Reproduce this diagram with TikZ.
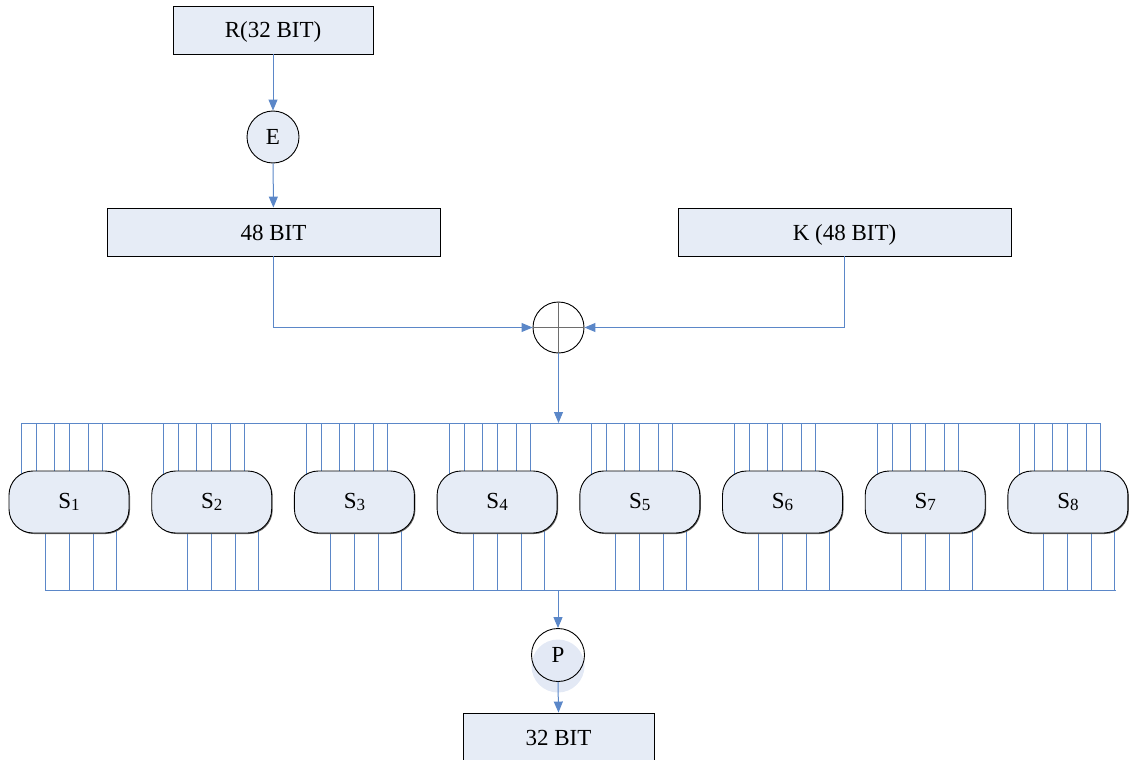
\documentclass[tikz,border=0pt]{standalone}
\usepackage{fontspec}
\setmainfont{Liberation Serif}
\usetikzlibrary{arrows.meta,calc,shadows,backgrounds}

\definecolor{boxfill}{HTML}{E6ECF6}
\definecolor{wire}{HTML}{5B87C8}
\definecolor{crossgray}{HTML}{6E6E6E}
\definecolor{pshade}{HTML}{E3E9F5}

\tikzset{
  label font/.style={font=\fontsize{23}{23}\selectfont},
  blockbox/.style={draw=black, fill=boxfill, line width=0.9pt, inner sep=0pt,
    minimum height=48pt, text height=16pt, text depth=0pt, label font,
    drop shadow={shadow xshift=1.2pt, shadow yshift=-1.2pt, fill=black!65, opacity=1}},
  sbox/.style={draw=black, fill=boxfill, line width=0.9pt, rounded corners=24pt,
    minimum width=120pt, minimum height=62pt, inner sep=0pt, label font,
    drop shadow={shadow xshift=1pt, shadow yshift=-1pt, fill=black!60, opacity=1}},
  roundop/.style={circle, draw=black, line width=0.9pt, inner sep=0pt, label font},
  flow/.style={draw=wire, line width=1pt, -{Triangle[length=11pt,width=9pt]}},
  busline/.style={draw=wire, line width=1pt},
}

\newcommand{\sname}[1]{S\raisebox{-2pt}{\fontsize{17}{17}\selectfont #1}}

\begin{document}
\begin{tikzpicture}[x=1pt,y=-1pt]
  \useasboundingbox (0,0) rectangle (1141,760);

  % blocks of the round function
  \node[blockbox, minimum width=200pt] (R) at (273,30) {R(32 BIT)};
  \node[roundop, fill=boxfill, minimum size=52pt] (E) at (273,137) {E};
  \node[blockbox, minimum width=333pt] (X) at (273.5,232) {48 BIT};
  \node[blockbox, minimum width=333pt] (K) at (844.5,232) {K (48 BIT)};
  \node[roundop, fill=white, minimum size=51pt] (xor) at (558.5,327.5) {};
  \draw[crossgray, line width=1.6pt] (xor.north) -- (xor.south) (xor.west) -- (xor.east);

  % S-boxes
  \foreach \i in {1,...,8} {
    \node[sbox] (S\i) at ({69+142.7*(\i-1)},502) {\sname{\i}};
  }

  % buses above and below the S-boxes
  \coordinate (topL) at (21,423);
  \coordinate (topR) at (1101,423);
  \coordinate (botL) at (45,590);
  \coordinate (botR) at (1116,590);

  \begin{scope}[on background layer]
    \draw[busline] (topL) -- (topR);
    \draw[busline] (botL) -- (botR);
    \foreach \i in {1,...,8} {
      \foreach \dx in {-48,-33,-15,0,19,33} {
        \path (S\i.center) ++(\dx,0) coordinate (w);
        \draw[busline] (w |- topL) -- (w |- S\i.center);
      }
      \foreach \dx in {-24,0,24,47} {
        \path (S\i.center) ++(\dx,0) coordinate (w);
        \draw[busline] (w |- S\i.center) -- (w |- botL);
      }
    }
  \end{scope}

  % permutation and output
  \fill[pshade] (558,666) circle (26.5pt);
  \node[roundop, minimum size=53pt] (P) at (558,655) {P};
  \node[blockbox, minimum width=191pt] (out) at (558.5,737) {32 BIT};

  % connectors
  \draw[flow] (R) -- (E);
  \draw[flow] (E) -- (X);
  \draw[flow] (X.south) |- (xor.west);
  \draw[flow] (K.south) |- (xor.east);
  \draw[flow] (xor.south) -- (xor |- topL);
  \draw[flow] (P |- botL) -- (P.north);
  \draw[flow] (P.south) -- (out.north);
\end{tikzpicture}
\end{document}
